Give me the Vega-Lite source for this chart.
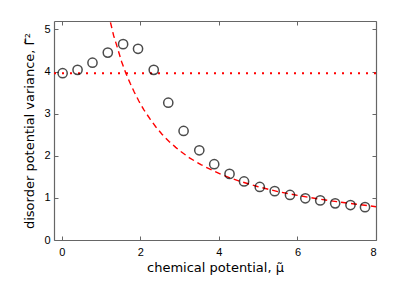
{
  "$schema": "https://vega.github.io/schema/vega-lite/v6.json",
  "width": 322,
  "height": 219,
  "autosize": "none",
  "padding": {"left": 54, "top": 21, "right": 39, "bottom": 45},
  "background": "white",
  "config": {
    "view": {"stroke": null},
    "font": "Liberation Sans",
    "axis": {
      "grid": false,
      "domainColor": "#666666",
      "tickColor": "#666666",
      "domainWidth": 1.2,
      "tickWidth": 1,
      "labelFont": "Liberation Sans",
      "labelFontSize": 11,
      "labelColor": "#000000",
      "titleFont": "DejaVu Sans",
      "titleFontSize": 13,
      "titleFontWeight": "normal",
      "titleColor": "#000000"
    }
  },
  "datasets": {
    "points": [
      {"mu": 0.02, "v": 3.96},
      {"mu": 0.40, "v": 4.04},
      {"mu": 0.78, "v": 4.21},
      {"mu": 1.17, "v": 4.45},
      {"mu": 1.56, "v": 4.65},
      {"mu": 1.94, "v": 4.54},
      {"mu": 2.34, "v": 4.04},
      {"mu": 2.71, "v": 3.26},
      {"mu": 3.10, "v": 2.59},
      {"mu": 3.50, "v": 2.13},
      {"mu": 3.88, "v": 1.80},
      {"mu": 4.27, "v": 1.57},
      {"mu": 4.64, "v": 1.39},
      {"mu": 5.04, "v": 1.26},
      {"mu": 5.42, "v": 1.16},
      {"mu": 5.81, "v": 1.07},
      {"mu": 6.20, "v": 0.99},
      {"mu": 6.58, "v": 0.94},
      {"mu": 6.96, "v": 0.87},
      {"mu": 7.35, "v": 0.83},
      {"mu": 7.72, "v": 0.78}
    ],
    "curve": [
      {"mu": 1.18, "v": 5.4},
      {"mu": 1.23, "v": 5.2},
      {"mu": 1.32, "v": 4.85},
      {"mu": 1.42, "v": 4.55},
      {"mu": 1.52, "v": 4.24},
      {"mu": 1.63, "v": 3.96},
      {"mu": 1.74, "v": 3.72},
      {"mu": 1.84, "v": 3.52},
      {"mu": 1.96, "v": 3.3},
      {"mu": 2.09, "v": 3.09},
      {"mu": 2.24, "v": 2.88},
      {"mu": 2.39, "v": 2.69},
      {"mu": 2.55, "v": 2.51},
      {"mu": 2.73, "v": 2.34},
      {"mu": 2.9, "v": 2.2},
      {"mu": 3.03, "v": 2.1},
      {"mu": 3.25, "v": 1.95},
      {"mu": 3.54, "v": 1.79},
      {"mu": 3.8, "v": 1.67},
      {"mu": 4.05, "v": 1.56},
      {"mu": 4.3, "v": 1.47},
      {"mu": 4.55, "v": 1.39},
      {"mu": 4.98, "v": 1.27},
      {"mu": 5.5, "v": 1.15},
      {"mu": 6.0, "v": 1.06},
      {"mu": 6.5, "v": 0.98},
      {"mu": 7.0, "v": 0.91},
      {"mu": 7.5, "v": 0.85},
      {"mu": 8.0, "v": 0.79}
    ],
    "hline": [
      {"mu": -0.2, "v": 3.96},
      {"mu": 8.0, "v": 3.96}
    ]
  },
  "resolve": {"axis": {"x": "independent", "y": "independent"}},
  "layer": [
    {
      "data": {"name": "hline"},
      "mark": {"type": "line", "color": "#ff0000", "strokeWidth": 2, "strokeDash": [2, 6], "strokeCap": "butt", "clip": true},
      "encoding": {
        "x": {"field": "mu", "type": "quantitative",
          "scale": {"domain": [-0.2, 8], "nice": false, "zero": false},
          "axis": {"orient": "top", "labels": false, "title": null, "values": [0, 2, 4, 6, 8], "tickSize": -4}},
        "y": {"field": "v", "type": "quantitative",
          "scale": {"domain": [0, 5.2], "nice": false},
          "axis": {"orient": "right", "labels": false, "title": null, "values": [0, 1, 2, 3, 4, 5], "tickSize": -4}}
      }
    },
    {
      "data": {"name": "curve"},
      "mark": {"type": "line", "color": "#ff0000", "strokeWidth": 1.4, "strokeDash": [6, 4], "clip": true},
      "encoding": {
        "x": {"field": "mu", "type": "quantitative",
          "scale": {"domain": [-0.2, 8], "nice": false, "zero": false},
          "axis": {"orient": "bottom", "values": [0, 2, 4, 6, 8], "tickSize": -4, "labelPadding": 10,
            "title": "chemical potential, μ̃", "titlePadding": 4}},
        "y": {"field": "v", "type": "quantitative",
          "scale": {"domain": [0, 5.2], "nice": false},
          "axis": {"orient": "left", "values": [0, 1, 2, 3, 4, 5], "tickSize": -4, "labelPadding": 8,
            "title": "disorder potential variance, Γ̃²", "titlePadding": 7}}
      }
    },
    {
      "data": {"name": "points"},
      "mark": {"type": "point", "shape": "circle", "filled": false, "color": "#000000", "size": 85, "strokeWidth": 1.5},
      "encoding": {
        "x": {"field": "mu", "type": "quantitative", "scale": {"domain": [-0.2, 8], "nice": false, "zero": false}, "axis": null},
        "y": {"field": "v", "type": "quantitative", "scale": {"domain": [0, 5.2], "nice": false}, "axis": null}
      }
    }
  ]
}
